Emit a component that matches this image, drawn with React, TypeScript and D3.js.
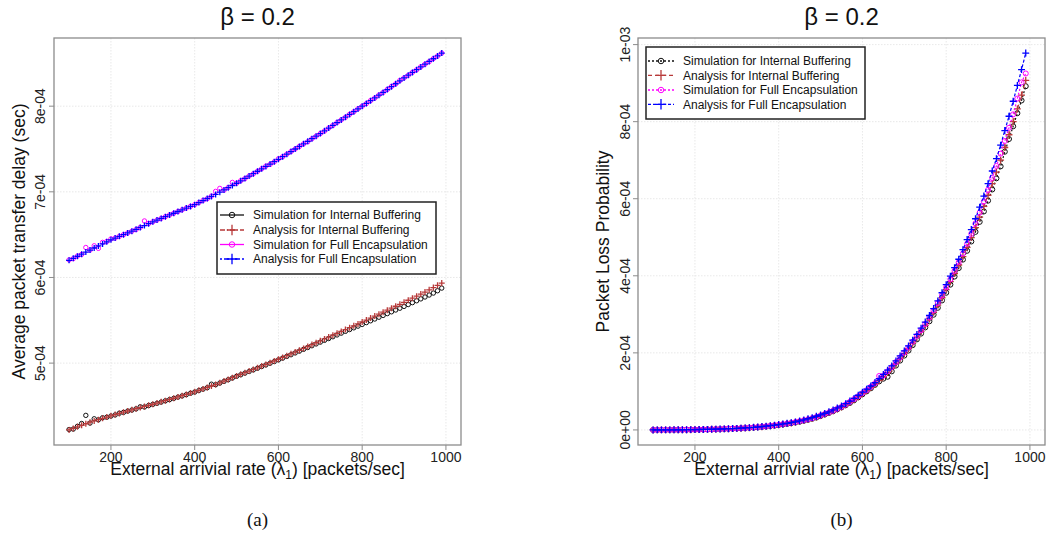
import React from "react";
import * as d3 from "d3";

// ---------- data ----------
const lambdas = [
  100, 110, 120, 130, 140, 150, 160, 170, 180, 190,
  200, 210, 220, 230, 240, 250, 260, 270, 280, 290,
  300, 310, 320, 330, 340, 350, 360, 370, 380, 390,
  400, 410, 420, 430, 440, 450, 460, 470, 480, 490,
  500, 510, 520, 530, 540, 550, 560, 570, 580, 590,
  600, 610, 620, 630, 640, 650, 660, 670, 680, 690,
  700, 710, 720, 730, 740, 750, 760, 770, 780, 790,
  800, 810, 820, 830, 840, 850, 860, 870, 880, 890,
  900, 910, 920, 930, 940, 950, 960, 970, 980, 990,
];
const UNIT = 1e-4;
const xLimits = [100, 1000];

// (a) average packet transfer delay, in units of 1e-4 sec
const delaySimIB = [
  4.225, 4.230, 4.262, 4.295, 4.390, 4.300, 4.350, 4.338, 4.362, 4.368,
  4.382, 4.395, 4.415, 4.425, 4.440, 4.452, 4.466, 4.490, 4.488, 4.505,
  4.518, 4.530, 4.545, 4.560, 4.574, 4.588, 4.603, 4.617, 4.632, 4.648,
  4.662, 4.680, 4.696, 4.713, 4.754, 4.748, 4.767, 4.786, 4.806, 4.826,
  4.846, 4.864, 4.883, 4.902, 4.921, 4.940, 4.960, 4.979, 4.998, 5.018,
  5.038, 5.058, 5.078, 5.098, 5.119, 5.140, 5.161, 5.182, 5.203, 5.224,
  5.245, 5.266, 5.287, 5.308, 5.329, 5.350, 5.371, 5.392, 5.412, 5.432,
  5.452, 5.473, 5.494, 5.515, 5.536, 5.557, 5.578, 5.599, 5.620, 5.641,
  5.662, 5.684, 5.706, 5.728, 5.750, 5.772, 5.795, 5.818, 5.845, 5.876,
];
const delayAnaIB = [
  4.220, 4.238, 4.256, 4.274, 4.292, 4.310, 4.325, 4.340, 4.355, 4.370,
  4.385, 4.399, 4.413, 4.427, 4.441, 4.455, 4.468, 4.481, 4.494, 4.507,
  4.520, 4.534, 4.548, 4.562, 4.576, 4.590, 4.605, 4.620, 4.635, 4.650,
  4.665, 4.682, 4.699, 4.716, 4.733, 4.750, 4.770, 4.790, 4.810, 4.830,
  4.850, 4.869, 4.888, 4.907, 4.926, 4.945, 4.965, 4.985, 5.005, 5.025,
  5.045, 5.066, 5.087, 5.108, 5.129, 5.150, 5.172, 5.194, 5.216, 5.238,
  5.260, 5.282, 5.304, 5.326, 5.348, 5.370, 5.392, 5.414, 5.436, 5.458,
  5.480, 5.503, 5.526, 5.549, 5.572, 5.595, 5.618, 5.641, 5.664, 5.687,
  5.710, 5.734, 5.758, 5.782, 5.806, 5.830, 5.856, 5.882, 5.908, 5.935,
];
const delaySimFE = [
  6.205, 6.220, 6.250, 6.270, 6.350, 6.320, 6.370, 6.340, 6.410, 6.420,
  6.450, 6.460, 6.480, 6.500, 6.520, 6.540, 6.560, 6.585, 6.660, 6.630,
  6.650, 6.670, 6.690, 6.710, 6.730, 6.750, 6.770, 6.790, 6.810, 6.830,
  6.850, 6.875, 6.900, 6.920, 6.950, 7.005, 7.040, 7.020, 7.050, 7.110,
  7.100, 7.130, 7.155, 7.185, 7.210, 7.240, 7.270, 7.300, 7.320, 7.350,
  7.385, 7.410, 7.440, 7.470, 7.500, 7.530, 7.560, 7.585, 7.620, 7.650,
  7.680, 7.710, 7.745, 7.775, 7.810, 7.840, 7.870, 7.905, 7.935, 7.970,
  8.000, 8.030, 8.065, 8.095, 8.130, 8.160, 8.195, 8.230, 8.260, 8.300,
  8.330, 8.360, 8.395, 8.425, 8.460, 8.490, 8.520, 8.555, 8.585, 8.620,
];
const delayAnaFE = [
  6.200, 6.224, 6.248, 6.272, 6.296, 6.320, 6.344, 6.368, 6.392, 6.416,
  6.440, 6.460, 6.480, 6.500, 6.520, 6.540, 6.562, 6.584, 6.606, 6.628,
  6.650, 6.670, 6.690, 6.710, 6.730, 6.750, 6.770, 6.790, 6.810, 6.830,
  6.850, 6.874, 6.898, 6.922, 6.946, 6.970, 6.996, 7.022, 7.048, 7.074,
  7.100, 7.128, 7.156, 7.184, 7.212, 7.240, 7.268, 7.296, 7.324, 7.352,
  7.380, 7.410, 7.440, 7.470, 7.500, 7.530, 7.560, 7.590, 7.620, 7.650,
  7.680, 7.712, 7.744, 7.776, 7.808, 7.840, 7.872, 7.904, 7.936, 7.968,
  8.000, 8.032, 8.064, 8.096, 8.128, 8.160, 8.194, 8.228, 8.262, 8.296,
  8.330, 8.362, 8.394, 8.426, 8.458, 8.490, 8.522, 8.554, 8.587, 8.620,
];

// (b) packet loss probability, in units of 1e-4
const lossSimIB = [
  0.000, 0.001, 0.001, 0.001, 0.002, 0.002, 0.003, 0.004, 0.005, 0.006,
  0.007, 0.009, 0.011, 0.013, 0.015, 0.018, 0.021, 0.025, 0.029, 0.033,
  0.037, 0.042, 0.048, 0.054, 0.061, 0.069, 0.078, 0.088, 0.100, 0.112,
  0.126, 0.141, 0.157, 0.175, 0.194, 0.214, 0.238, 0.263, 0.290, 0.322,
  0.360, 0.400, 0.440, 0.485, 0.535, 0.585, 0.640, 0.700, 0.770, 0.845,
  0.925, 1.000, 1.080, 1.170, 1.260, 1.330, 1.380, 1.520, 1.670, 1.800,
  1.930, 2.060, 2.200, 2.350, 2.500, 2.660, 2.820, 2.990, 3.170, 3.360,
  3.560, 3.770, 3.980, 4.200, 4.420, 4.650, 4.890, 5.140, 5.400, 5.670,
  5.950, 6.240, 6.530, 6.840, 7.220, 7.550, 7.880, 8.220, 8.550, 8.920,
];
const lossAnaIB = [
  0.000, 0.001, 0.001, 0.001, 0.002, 0.003, 0.003, 0.004, 0.005, 0.006,
  0.008, 0.010, 0.012, 0.014, 0.016, 0.019, 0.022, 0.026, 0.030, 0.034,
  0.038, 0.044, 0.050, 0.056, 0.064, 0.072, 0.082, 0.092, 0.104, 0.117,
  0.131, 0.147, 0.163, 0.181, 0.200, 0.222, 0.246, 0.272, 0.300, 0.335,
  0.370, 0.410, 0.450, 0.495, 0.545, 0.595, 0.650, 0.715, 0.785, 0.860,
  0.940, 1.020, 1.100, 1.190, 1.280, 1.380, 1.490, 1.600, 1.720, 1.850,
  1.980, 2.110, 2.250, 2.400, 2.550, 2.710, 2.880, 3.050, 3.240, 3.430,
  3.640, 3.850, 4.060, 4.280, 4.500, 4.740, 4.990, 5.250, 5.520, 5.800,
  6.090, 6.390, 6.690, 7.000, 7.330, 7.660, 8.000, 8.330, 8.690, 9.070,
];
const lossSimFE = [
  0.000, 0.001, 0.001, 0.002, 0.002, 0.003, 0.004, 0.004, 0.005, 0.007,
  0.008, 0.010, 0.012, 0.015, 0.017, 0.020, 0.023, 0.027, 0.031, 0.035,
  0.040, 0.045, 0.051, 0.058, 0.066, 0.074, 0.084, 0.095, 0.107, 0.120,
  0.135, 0.150, 0.167, 0.185, 0.205, 0.227, 0.250, 0.276, 0.305, 0.338,
  0.375, 0.415, 0.455, 0.500, 0.550, 0.600, 0.660, 0.730, 0.800, 0.875,
  0.955, 1.030, 1.120, 1.210, 1.400, 1.410, 1.520, 1.630, 1.760, 1.880,
  2.010, 2.140, 2.290, 2.440, 2.590, 2.750, 2.920, 3.100, 3.290, 3.490,
  3.700, 3.910, 4.130, 4.350, 4.580, 4.830, 5.090, 5.360, 5.640, 5.930,
  6.230, 6.540, 6.850, 7.170, 7.500, 7.840, 8.190, 8.600, 9.020, 9.250,
];
const lossAnaFE = [
  0.000, 0.001, 0.001, 0.002, 0.002, 0.003, 0.004, 0.005, 0.006, 0.007,
  0.009, 0.011, 0.013, 0.015, 0.018, 0.021, 0.024, 0.028, 0.032, 0.036,
  0.041, 0.047, 0.053, 0.060, 0.068, 0.077, 0.087, 0.098, 0.110, 0.124,
  0.140, 0.155, 0.172, 0.190, 0.210, 0.235, 0.260, 0.290, 0.320, 0.355,
  0.390, 0.430, 0.470, 0.520, 0.570, 0.620, 0.680, 0.750, 0.820, 0.900,
  0.980, 1.060, 1.140, 1.230, 1.330, 1.440, 1.550, 1.660, 1.790, 1.920,
  2.050, 2.180, 2.330, 2.480, 2.640, 2.800, 2.970, 3.150, 3.350, 3.560,
  3.770, 3.990, 4.210, 4.430, 4.680, 4.940, 5.200, 5.480, 5.780, 6.070,
  6.390, 6.720, 7.040, 7.390, 7.770, 8.140, 8.530, 8.940, 9.350, 9.780,
];

const xTicks = [200, 400, 600, 800, 1000];
const yTicksA = [5e-4, 6e-4, 7e-4, 8e-4];
const yTickLabelsA = ["5e-04", "6e-04", "7e-04", "8e-04"];
const yTicksB = [0, 2e-4, 4e-4, 6e-4, 8e-4, 1e-3];
const yTickLabelsB = ["0e+00", "2e-04", "4e-04", "6e-04", "8e-04", "1e-03"];

const seriesNames = [
  "Simulation for Internal Buffering",
  "Analysis for Internal Buffering",
  "Simulation for Full Encapsulation",
  "Analysis for Full Encapsulation",
];
const seriesColors = ["#111111", "#b83a3a", "#ff00ff", "#0000ff"];
const seriesShapes = ["circle", "plus", "circle", "plus"];
const legendDashA = [null, "5,2,1,2", null, "2,2,5,2"];
const legendDashB = ["2,2", "4,3", "2,2", "3,2"];

const FONT = "'Liberation Sans', Arial, Helvetica, sans-serif";

type Series = { values: number[]; color: string; shape: string; dash: string | null };

function Marker({ shape, x, y, color, size }: { shape: string; x: number; y: number; color: string; size: number }) {
  if (shape === "circle") {
    return <circle cx={x} cy={y} r={size * 0.55} fill="none" stroke={color} strokeWidth={1} />;
  }
  const s = size * 0.75;
  return (
    <path d={`M${x - s},${y}H${x + s}M${x},${y - s}V${y + s}`} stroke={color} strokeWidth={1.3} fill="none" />
  );
}

function Panel(props: {
  left: number; right: number; top: number; bottom: number;
  yData: number[][]; series: Series[]; drawLines: boolean;
  yTicks: number[]; yLabels: string[]; yTitle: string; yTitleX: number; yTickX: number;
  legend: { x0: number; y0: number; x1: number; y1: number; lineX0: number; lineX1: number; textX: number; rows: number[]; dashes: (string | null)[] };
  caption: string; markerSize: number;
}) {
  const { left, right, top, bottom, series } = props;
  const pad = (lo: number, hi: number) => { const d = (hi - lo) * 0.04; return [lo - d, hi + d]; };
  const xDom = pad(xLimits[0], xLimits[1]);
  const all = props.yData.flat().map((v) => v * UNIT);
  const [ymin, ymax] = d3.extent(all) as [number, number];
  const yDom = pad(ymin, ymax);
  const x = d3.scaleLinear().domain(xDom).range([left, right]);
  const y = d3.scaleLinear().domain(yDom).range([bottom, top]);
  const cx = (left + right) / 2;
  const cy = (top + bottom) / 2;
  const line = d3.line<number>().x((_, i) => x(lambdas[i])).y((v) => y(v * UNIT));
  const lg = props.legend;
  return (
    <g>
      {/* grid */}
      {xTicks.map((t) => (
        <line key={"gx" + t} x1={x(t)} x2={x(t)} y1={top} y2={bottom} stroke="#e2e2e2" strokeWidth={0.8} strokeDasharray="1.5,1.5" />
      ))}
      {props.yTicks.map((t) => (
        <line key={"gy" + t} x1={left} x2={right} y1={y(t)} y2={y(t)} stroke="#e2e2e2" strokeWidth={0.8} strokeDasharray="1.5,1.5" />
      ))}
      {/* data */}
      {series.map((s, si) => (
        <g key={"s" + si}>
          {props.drawLines && (
            <path d={line(s.values) || ""} fill="none" stroke={s.color} strokeWidth={1.2} strokeDasharray={s.dash || undefined} />
          )}
          {s.values.map((v, i) => (
            <Marker key={i} shape={s.shape} x={x(lambdas[i])} y={y(v * UNIT)} color={s.color} size={props.markerSize} />
          ))}
        </g>
      ))}
      {/* box */}
      <rect x={left} y={top} width={right - left} height={bottom - top} fill="none" stroke="#8c8c8c" strokeWidth={1.3} />
      {/* x ticks */}
      {xTicks.map((t) => (
        <g key={"xt" + t}>
          <line x1={x(t)} x2={x(t)} y1={bottom} y2={bottom + 5} stroke="#8c8c8c" strokeWidth={1} />
          <text x={x(t)} y={462} textAnchor="middle" fontSize={14} fontFamily={FONT} fill="#222">{t}</text>
        </g>
      ))}
      {/* y ticks */}
      {props.yTicks.map((t, i) => (
        <g key={"yt" + t}>
          <line x1={left - 5} x2={left} y1={y(t)} y2={y(t)} stroke="#8c8c8c" strokeWidth={1} />
          <text transform={`translate(${props.yTickX},${y(t)}) rotate(-90)`} textAnchor="middle" fontSize={14} fontFamily={FONT} fill="#222">{props.yLabels[i]}</text>
        </g>
      ))}
      {/* titles */}
      <text x={cx} y={25} textAnchor="middle" fontSize={24} fontFamily={FONT} fill="#111">β = 0.2</text>
      <text x={cx} y={475} textAnchor="middle" fontSize={17.5} fontFamily={FONT} fill="#111">
        External arrivial rate (λ<tspan fontSize={12} dy={4}>1</tspan><tspan dy={-4}>) [packets/sec]</tspan>
      </text>
      <text transform={`translate(${props.yTitleX},${cy}) rotate(-90)`} textAnchor="middle" fontSize={17.5} fontFamily={FONT} fill="#111">{props.yTitle}</text>
      <text x={cx} y={526} textAnchor="middle" fontSize={19} fontFamily="'Liberation Serif', 'Times New Roman', serif" fill="#111">{props.caption}</text>
      {/* legend */}
      <rect x={lg.x0} y={lg.y0} width={lg.x1 - lg.x0} height={lg.y1 - lg.y0} fill="#fff" stroke="#222" strokeWidth={1.5} />
      {series.map((s, i) => {
        const ry = lg.rows[i];
        const mx = (lg.lineX0 + lg.lineX1) / 2;
        return (
          <g key={"lg" + i}>
            <line x1={lg.lineX0} x2={lg.lineX1} y1={ry} y2={ry} stroke={s.color} strokeWidth={1.3} strokeDasharray={lg.dashes[i] || undefined} />
            <Marker shape={s.shape} x={mx} y={ry} color={s.color} size={s.shape === "plus" ? 7 : 5} />
            <text x={lg.textX} y={ry + 4.3} fontSize={12} fontFamily={FONT} fill="#111">{seriesNames[i]}</text>
          </g>
        );
      })}
    </g>
  );
}

export default function App() {
  const seriesA: Series[] = [delaySimIB, delayAnaIB, delaySimFE, delayAnaFE].map((v, i) => ({
    values: v, color: seriesColors[i], shape: seriesShapes[i], dash: legendDashA[i],
  }));
  const seriesB: Series[] = [lossSimIB, lossAnaIB, lossSimFE, lossAnaFE].map((v, i) => ({
    values: v, color: seriesColors[i], shape: seriesShapes[i], dash: legendDashB[i],
  }));
  return (
    <svg width={1048} height={535} style={{ position: "absolute", left: 0, top: 0, background: "#fff" }}>
      <rect x={0} y={0} width={1048} height={535} fill="#fff" />
      <Panel
        left={54} right={461} top={38} bottom={445}
        yData={[delaySimIB, delayAnaIB, delaySimFE, delayAnaFE]}
        series={seriesA} drawLines={false}
        yTicks={yTicksA} yLabels={yTickLabelsA}
        yTitle="Average packet transfer delay (sec)" yTitleX={25} yTickX={45}
        legend={{ x0: 217, y0: 202, x1: 436, y1: 274, lineX0: 220, lineX1: 244, textX: 253, rows: [215, 230, 244.5, 259], dashes: legendDashA }}
        caption="(a)" markerSize={4}
      />
      <Panel
        left={638} right={1045} top={38} bottom={445}
        yData={[lossSimIB, lossAnaIB, lossSimFE, lossAnaFE]}
        series={seriesB} drawLines={true}
        yTicks={yTicksB} yLabels={yTickLabelsB}
        yTitle="Packet Loss Probability" yTitleX={609} yTickX={630}
        legend={{ x0: 646, y0: 47, x1: 865, y1: 119, lineX0: 648, lineX1: 674, textX: 683, rows: [61, 75.3, 90, 104.3], dashes: legendDashB }}
        caption="(b)" markerSize={4.6}
      />
    </svg>
  );
}
